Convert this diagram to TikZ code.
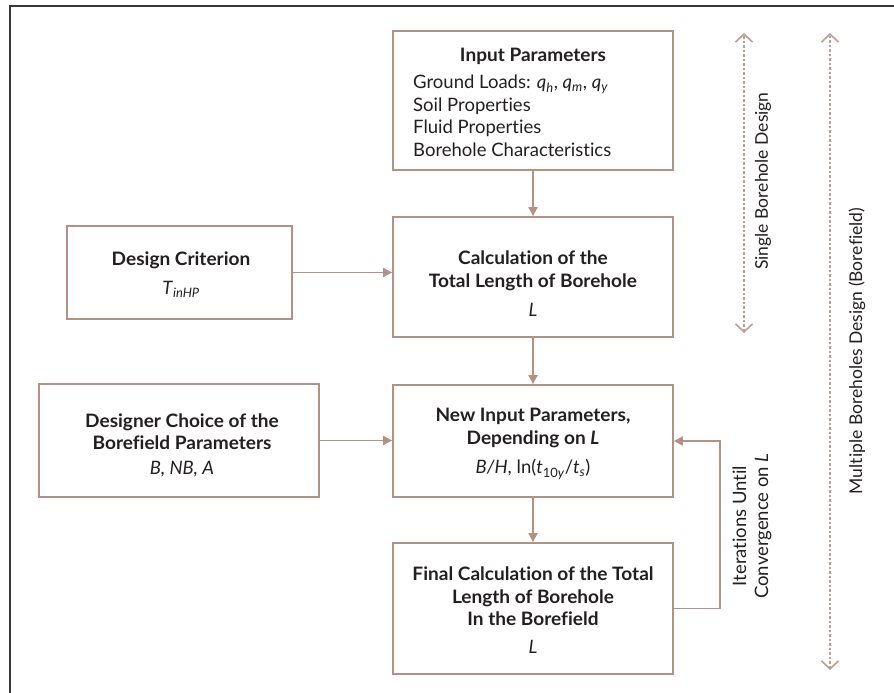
\documentclass[tikz,border=0pt]{standalone}
\usepackage{fontspec}
\setmainfont{Lato}[Ligatures={NoCommon},BoldFeatures={FakeStretch=1.03}]
\usetikzlibrary{arrows.meta}
\definecolor{boxc}{RGB}{178,146,132}
\definecolor{dashc}{RGB}{188,158,148}
\definecolor{framec}{RGB}{55,55,55}
\definecolor{txt}{RGB}{35,31,32}
\tikzset{
  boxn/.style={draw=boxc, line width=1.8pt, minimum width=280pt, inner sep=0pt},
  conn/.style={draw=boxc, line width=1.8pt, -{Triangle[length=9pt,width=9pt]}},
  span/.style={draw=dashc, line width=1.6pt, dash pattern=on 2.5pt off 2pt, {Straight Barb[length=8pt,width=17pt,line width=1.6pt]}-{Straight Barb[length=8pt,width=17pt,line width=1.6pt]}},
  lbl/.style={text=txt, font=\fontsize{18.5}{22.5}\selectfont, inner sep=0pt, align=center},
  vlbl/.style={text=txt, font=\fontsize{17.5}{22}\selectfont, inner sep=0pt, rotate=90, align=center},
}
\newcommand{\mi}[1]{\textit{#1}}
\begin{document}
\begin{tikzpicture}[x=1pt,y=-1pt]
\useasboundingbox (0,0) rectangle (894,693);
\draw[framec, line width=2pt] (10,693) -- (10,6) -- (894,6);

% main column boxes
\node[boxn, minimum height=139pt] (b1) at (533,100.5) {};
\node[lbl] (b1t) at (533,56.5) {\textbf{Input Parameters}};
\node[lbl, anchor=north west, align=left] (b1l) at (413,75) {Ground Loads: \mi{q}\textsubscript{\mi{h}}, \mi{q}\textsubscript{\mi{m}}, \mi{q}\textsubscript{\mi{y}}\\Soil Properties\\Fluid Properties\\Borehole Characteristics};

\node[boxn, minimum height=120pt] (b2) at (533,277) {};
\node[lbl] (b2t) at (533,284) {\textbf{Calculation of the}\\\textbf{Total Length of Borehole}\\[7pt]\mi{L}};

\node[boxn, minimum height=112pt] (b3) at (533,441) {};
\node[lbl] (b3t) at (533,444) {\textbf{New Input Parameters,}\\\textbf{Depending on \mi{L}}\\[7pt]\mi{B/H}, ln(\mi{t}\textsubscript{10\mi{y}}/\mi{t}\textsubscript{\mi{s}})};

\node[boxn, minimum height=131pt] (b4) at (533,608.5) {};
\node[lbl] (b4t) at (533,610) {\textbf{Final Calculation of the Total}\\\textbf{Length of Borehole}\\\textbf{In the Borefield}\\[5pt]\mi{L}};

% left boxes
\node[boxn, minimum width=225pt, minimum height=93pt] (dc) at (179.5,272.5) {};
\node[lbl] (dct) at (181,275) {\textbf{Design Criterion}\\[6pt]\mi{T}\textsubscript{\mi{inHP}}};
\node[boxn, minimum height=113pt] (dch) at (179,440.5) {};
\node[lbl] (dcht) at (182,445) {\textbf{Designer Choice of the}\\\textbf{Borefield Parameters}\\[2pt]\mi{B, NB, A}};

% connectors
\draw[conn] (b1.south) -- (b2.north);
\draw[conn] (b2.south) -- (b3.north);
\draw[conn] (b3.south) -- (b4.north);
\draw[conn] (dc.east) -- (dc.east -| b2.west);
\draw[conn] (dch.east) -- (dch.east -| b3.west);
\coordinate (fb) at (720,608.5);
\draw[conn] (b4.east) -- (fb) |- (b3.east);
\node[vlbl, font=\fontsize{18.5}{22}\selectfont] (it) at (752,526) {Iterations Until\\Convergence on \mi{L}};

% design spans
\coordinate (s1) at (744,33);
\coordinate (s2) at (744,333);
\coordinate (m1) at (830,33);
\coordinate (m2) at (830,670);
\draw[span] (s2) -- (s1);
\draw[span] (m2) -- (m1);
\node[vlbl] (st) at (763,181) {Single Borehole Design};
\node[vlbl] (mt) at (857,351) {Multiple Boreholes Design (Borefield)};
\end{tikzpicture}
\end{document}
